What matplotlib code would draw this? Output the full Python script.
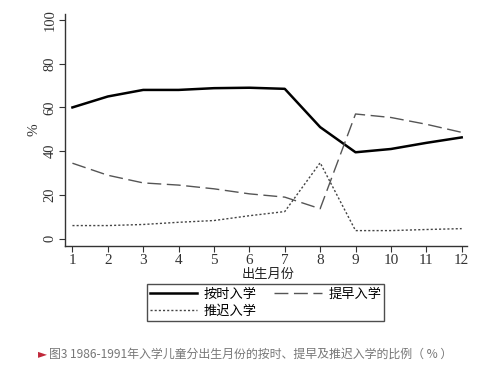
import matplotlib
matplotlib.use("Agg")
import matplotlib.pyplot as plt

months = [1, 2, 3, 4, 5, 6, 7, 8, 9, 10, 11, 12]
on_time = [60, 65, 68, 68, 68.8, 69, 68.5, 51, 39.5, 41, 43.8, 46.3]
early = [34.5, 29, 25.5, 24.5, 22.8, 20.5, 19, 13.7, 57, 55.4, 52.3, 48.6]
delayed = [6, 6, 6.5, 7.5, 8.3, 10.5, 12.4, 34.7, 3.7, 3.7, 4.2, 4.6]
labels = ["按时入学", "提早入学", "推迟入学"]
yticks = [0, 20, 40, 60, 80, 100]

cjk = ["Noto Sans CJK SC", "DejaVu Sans"]
serif = "Liberation Serif"

fig = plt.figure(figsize=(4.9, 3.7), dpi=100)
ax = fig.add_axes([65/490, 1-245.7/370, (467-65)/490, (245.7-14)/370])

l1, = ax.plot(months, on_time, color="black", lw=1.8, solid_joinstyle="round")
l2, = ax.plot(months, early, color="#555555", lw=1.0, dashes=(10, 4))
l3, = ax.plot(months, delayed, color="#444444", lw=1.0, dashes=(1.5, 1.5))

ax.set_xlim(0.79, 12.15)
ax.set_ylim(-3.2, 102.7)
ax.set_xticks(months)
ax.set_xticklabels([str(m) for m in months], fontfamily=serif, fontsize=11)
ax.set_yticks(yticks)
ax.set_yticklabels([str(v) for v in yticks], fontfamily=serif, fontsize=10.5,
                   rotation=90, va="center")
for s in ["top", "right"]:
    ax.spines[s].set_visible(False)
for s in ["left", "bottom"]:
    ax.spines[s].set_color("#333333")
    ax.spines[s].set_linewidth(1.0)
ax.tick_params(axis="both", direction="out", length=4, width=0.8, color="#333333",
               labelcolor="#333333")
ax.tick_params(axis="y", pad=2)
ax.tick_params(axis="x", pad=2)
ax.set_ylabel("%", fontfamily=serif, fontsize=11, color="#333333", labelpad=2)
ax.set_xlabel("出生月份", fontfamily=cjk, fontsize=9.5, color="#222222", labelpad=0)
ax.xaxis.set_label_coords(0.505, -0.098)

leg = fig.legend([l1, l3, l2], [labels[0], labels[2], labels[1]], ncol=2,
                 loc="center", bbox_to_anchor=(265.5/490, 1-302.5/370),
                 prop={"family": cjk, "size": 9.5}, frameon=True, fancybox=False,
                 edgecolor="#222222", handlelength=3.6, handletextpad=0.5,
                 columnspacing=1.3, borderpad=0.25, labelspacing=0.3,
                 borderaxespad=0)
leg.get_frame().set_linewidth(1.0)

fig.text(38/490, 1-354/370, "►", color="#c0283a", fontsize=8.5, va="center",
         fontfamily=["DejaVu Sans"])
fig.text(49/490, 1-354/370, "图3 1986-1991年入学儿童分出生月份的按时、提早及推迟入学的比例（ % ）",
         color="#777777", fontsize=8.6, va="center", fontfamily=cjk)

fig.savefig("out.png", dpi=100)
